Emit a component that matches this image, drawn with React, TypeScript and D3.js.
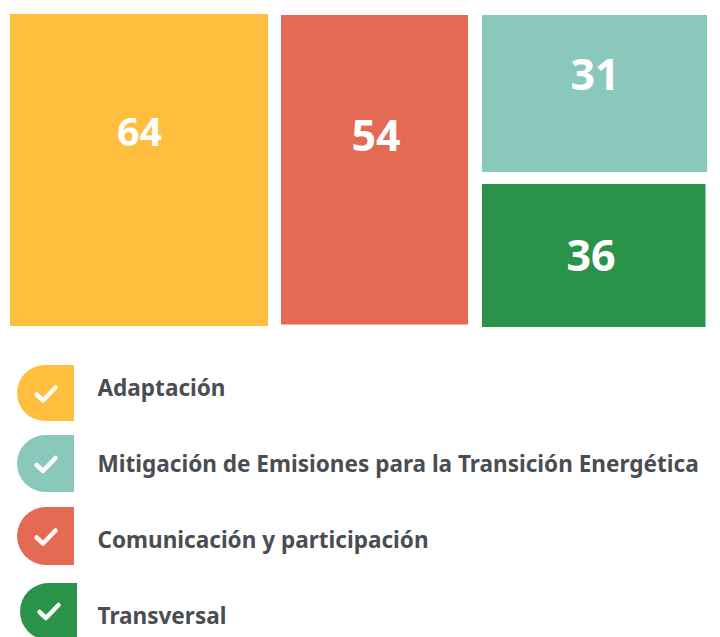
import React from "react";
import * as d3 from "d3";

const categories = ["Adaptación", "Mitigación de Emisiones para la Transición Energética", "Comunicación y participación", "Transversal"];
const values = [64, 31, 54, 36];
const colors = ["#FFBE3D", "#8AC8BC", "#E56A54", "#2A9249"];

const W = 720;
const H = 637;
const FONT = "'Noto Sans', 'Open Sans', sans-serif";

// Piecewise scales: the reference's tiles are not strictly area-proportional.
const columns = [[0], [2], [1, 3]];
const colTotals = columns.map((c) => d3.sum(c, (i) => values[i]));
const colEdges = d3.cumsum(colTotals);
const xScale = d3.scaleLinear().domain([0, colEdges[0], colEdges[1], colEdges[2]]).range([10, 274.5, 475, 707]);
const yRight = d3.scaleLinear().domain([0, values[1], values[1] + values[3]]).range([15, 178, 327]);

type Tile = { i: number; x0: number; x1: number; y0: number; y1: number; tx: number; ty: number; fs: number };
const tiles: Tile[] = [
  { i: 0, x0: xScale(0), x1: xScale(colEdges[0]) - 6.5, y0: 14, y1: 326, tx: 139.5, ty: 131, fs: 39.5 },
  { i: 2, x0: xScale(colEdges[0]) + 6.5, x1: xScale(colEdges[1]) - 7, y0: 15, y1: 324.5, tx: 376, ty: 134, fs: 43 },
  { i: 1, x0: xScale(colEdges[1]) + 7, x1: xScale(colEdges[2]), y0: yRight(0), y1: yRight(values[1]) - 6, tx: 595, ty: 73, fs: 43 },
  { i: 3, x0: xScale(colEdges[1]) + 7, x1: xScale(colEdges[2]) - 1.5, y0: yRight(values[1]) + 6, y1: yRight(values[1] + values[3]), tx: 591, ty: 254, fs: 43 },
];

const labelY = d3.scalePoint<number>().domain([0, 1, 2, 3]).range([387, 615]);
const pillTop = [365, 435, 507, 583];
const pillBottom = [421, 492, 565, 640];
const pillLeft = [17, 17, 17, 20];
const pillWidth = 57;

const pillPath = (x: number, y0: number, y1: number) => {
  const r = (y1 - y0) / 2;
  const p = d3.path();
  p.moveTo(x + pillWidth, y0);
  p.lineTo(x + r, y0);
  p.arc(x + r, y0 + r, r, -Math.PI / 2, Math.PI / 2, true);
  p.lineTo(x + pillWidth, y1);
  p.closePath();
  return p.toString();
};

const checkLine = d3.line();
const checkPts: [number, number][] = [[-9, 1], [-2.5, 7], [10, -6]];

export default function App() {
  return (
    <svg width={W} height={H} viewBox={`0 0 ${W} ${H}`} style={{ position: "absolute", left: 0, top: 0, background: "#fff" }}>
      {tiles.map((t) => (
        <g key={t.i}>
          <rect x={t.x0} y={t.y0} width={t.x1 - t.x0} height={t.y1 - t.y0} fill={colors[t.i]} />
          <text x={t.tx} y={t.ty} textAnchor="middle" dominantBaseline="central" fontFamily={FONT} fontWeight={700} fontSize={t.fs} fill="#fff">
            {values[t.i]}
          </text>
        </g>
      ))}
      {categories.map((c, i) => {
        const cx = pillLeft[i] + pillWidth / 2;
        const cy = (pillTop[i] + pillBottom[i]) / 2;
        return (
          <g key={c}>
            <path d={pillPath(pillLeft[i], pillTop[i], pillBottom[i])} fill={colors[i]} />
            <path
              d={checkLine(checkPts) ?? ""}
              transform={`translate(${cx},${i === 3 ? cy - 0.5 : cy + 0.5})`}
              fill="none"
              stroke="#fff"
              strokeWidth={4.5}
              strokeLinecap="round"
              strokeLinejoin="round"
              opacity={0.95}
            />
            <text x={97.5} y={labelY(i)} dominantBaseline="central" fontFamily={FONT} fontWeight={700} fontSize={22.55} fill="#4A4D52">
              {c}
            </text>
          </g>
        );
      })}
    </svg>
  );
}
